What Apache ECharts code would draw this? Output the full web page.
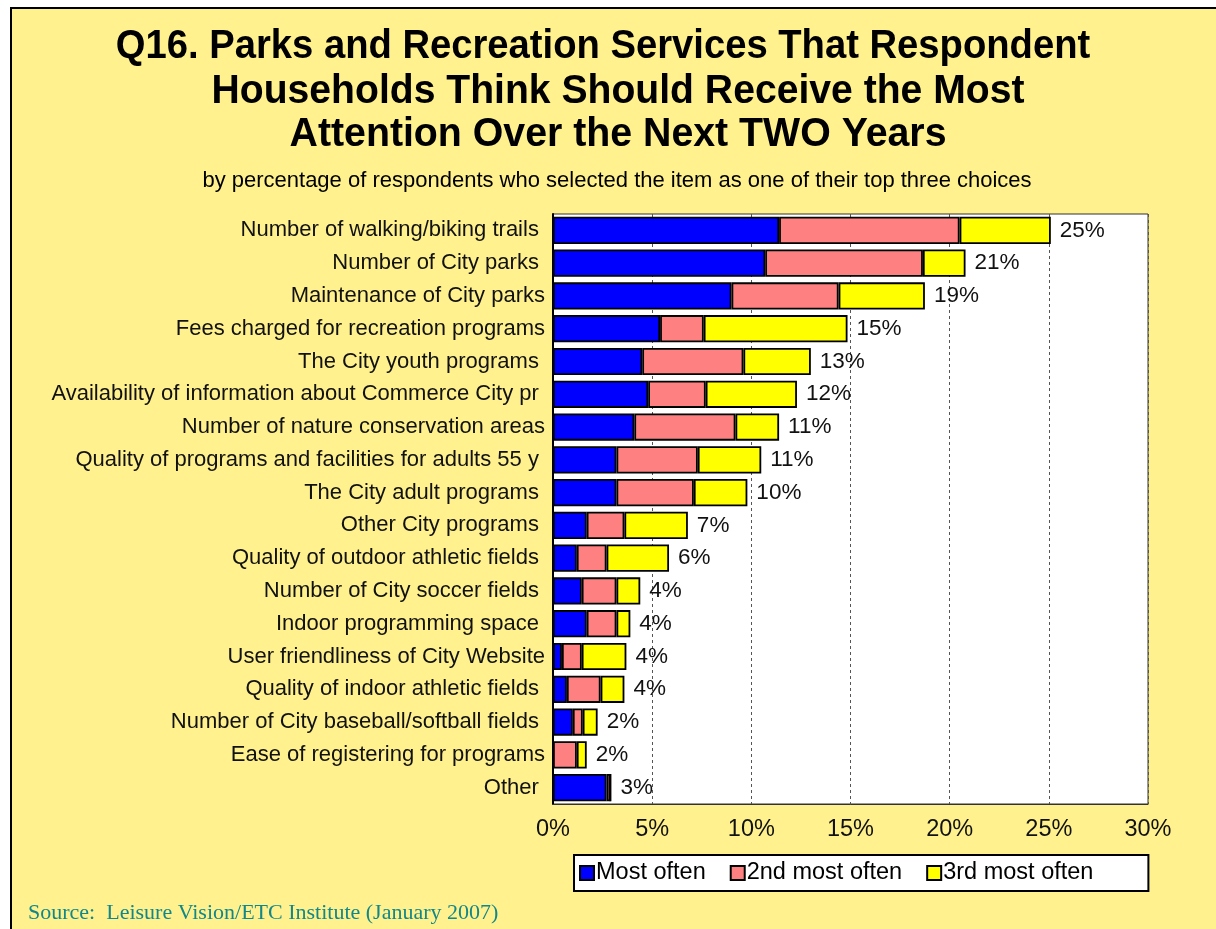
<!DOCTYPE html>
<html>
<head>
<meta charset="utf-8">
<script src="https://cdn.jsdelivr.net/npm/echarts@6/dist/echarts.min.js"></script>
<style>
html,body{margin:0;padding:0;background:#fff;}
#chart{width:1216px;height:929px;}
</style>
</head>
<body>
<div id="chart"></div>
<script>
const categories = [
  "Number of walking/biking trails ",
  "Number of City parks ",
  "Maintenance of City parks",
  "Fees charged for recreation programs",
  "The City youth programs ",
  "Availability of information about Commerce City pr ",
  "Number of nature conservation areas",
  "Quality of programs and facilities for adults 55 y ",
  "The City adult programs ",
  "Other City programs ",
  "Quality of outdoor athletic fields ",
  "Number of City soccer fields ",
  "Indoor programming space ",
  "User friendliness of City Website",
  "Quality of indoor athletic fields ",
  "Number of City baseball/softball fields ",
  "Ease of registering for programs",
  "Other "
];
const mostOften   = [11.4, 10.7, 9.0, 5.4, 4.5, 4.8, 4.1, 3.2, 3.2, 1.7, 1.2, 1.45, 1.7, 0.45, 0.7, 1.0, 0.0, 2.7];
const secondOften = [9.1, 7.95, 5.4, 2.2, 5.1, 2.9, 5.1, 4.1, 3.9, 1.9, 1.5, 1.75, 1.5, 1.0, 1.7, 0.5, 1.2, 0.2];
const thirdOften  = [4.6, 2.15, 4.35, 7.25, 3.4, 4.6, 2.2, 3.2, 2.7, 3.2, 3.15, 1.2, 0.7, 2.25, 1.2, 0.75, 0.5, 0.0];
const totalLabels = ["25%", "21%", "19%", "15%", "13%", "12%", "11%", "11%", "10%", "7%", "6%", "4%", "4%", "4%", "4%", "2%", "2%", "3%"];
const seriesNames = ["Most often", "2nd most often", "3rd most often"];
const titleLines = [
  "Q16. Parks and Recreation Services That Respondent",
  "Households Think Should Receive the Most",
  "Attention Over the Next TWO Years"
];
const subtitleText = "by percentage of respondents who selected the item as one of their top three choices";
const sourceText = "Source:  Leisure Vision/ETC Institute (January 2007)";

const chart = echarts.init(document.getElementById('chart'), null, {renderer: 'canvas'});
const barStyle = (c) => ({color: c, borderColor: '#000', borderWidth: 1.8});
const titleFont = 'bold 40px "Liberation Sans", Arial, sans-serif';
const titleLayout = [
  {x: 603, y: 47, sx: 0.955},
  {x: 618, y: 92, sx: 0.978},
  {x: 618, y: 135, sx: 0.982}
];
const titleGraphics = titleLines.map((t, i) => ({
  type: 'text', x: titleLayout[i].x, y: titleLayout[i].y, scaleX: titleLayout[i].sx, silent: true,
  style: {text: t, font: titleFont, fill: '#000', textAlign: 'center', textVerticalAlign: 'middle'}
}));
const option = {
  backgroundColor: '#FFF18D',
  animation: false,
  textStyle: {fontFamily: 'Liberation Sans, Arial, sans-serif'},
  legend: {
    data: seriesNames,
    left: 574,
    top: 855,
    backgroundColor: '#fff',
    borderColor: '#000',
    borderWidth: 2,
    borderRadius: 0,
    padding: [6, 55, 6, 5],
    itemWidth: 14,
    itemHeight: 14,
    itemGap: 24,
    icon: 'rect',
    textStyle: {fontSize: 23.5, color: '#000', padding: [0, 0, 0, -3]},
    selectedMode: false
  },
  grid: {
    left: 553, right: 68, top: 214, bottom: 125,
    show: true, backgroundColor: '#fff', borderColor: '#333', borderWidth: 1
  },
  xAxis: {
    type: 'value', min: 0, max: 30, interval: 5,
    axisLine: {show: true, lineStyle: {color: '#333', width: 1}},
    axisTick: {show: false},
    axisLabel: {formatter: '{value}%', fontSize: 23.5, color: '#111', margin: 14},
    splitLine: {show: true, lineStyle: {color: '#555', type: [3, 3], width: 1}}
  },
  yAxis: {
    type: 'category', data: categories, inverse: true,
    axisLine: {show: true, lineStyle: {color: '#000', width: 2}},
    axisTick: {show: false},
    axisLabel: {fontSize: 22, color: '#111', margin: 8}
  },
  series: [
    {name: seriesNames[0], type: 'bar', stack: 'a', data: mostOften, itemStyle: barStyle('#0000FF'), barCategoryGap: '17%'},
    {name: seriesNames[1], type: 'bar', stack: 'a', data: secondOften, itemStyle: barStyle('#FF8080')},
    {name: seriesNames[2], type: 'bar', stack: 'a', data: thirdOften, itemStyle: barStyle('#FFFF00'),
      label: {show: true, position: 'right', distance: 9, fontSize: 22.5, color: '#111',
        formatter: (p) => totalLabels[p.dataIndex]}}
  ],
  graphic: [
    {type: 'rect', shape: {x: 0, y: 0, width: 1216, height: 8}, style: {fill: '#fff'}, silent: true},
    {type: 'rect', shape: {x: 0, y: 0, width: 10, height: 929}, style: {fill: '#fff'}, silent: true},
    {type: 'line', shape: {x1: 10, y1: 8, x2: 1216, y2: 8}, style: {stroke: '#000', lineWidth: 2}, silent: true},
    {type: 'line', shape: {x1: 11, y1: 8, x2: 11, y2: 929}, style: {stroke: '#000', lineWidth: 2}, silent: true},
    ...titleGraphics,
    {type: 'text', x: 617, y: 181, silent: true,
      style: {text: subtitleText, font: '22px "Liberation Sans", Arial, sans-serif', fill: '#000', textAlign: 'center', textVerticalAlign: 'middle'}},
    {type: 'text', x: 28, y: 913, silent: true,
      style: {text: sourceText, fill: '#11878A', font: '22px "Liberation Serif", "Times New Roman", serif', textAlign: 'left', textVerticalAlign: 'middle'}}
  ]
};
chart.setOption(option);
</script>
</body>
</html>
